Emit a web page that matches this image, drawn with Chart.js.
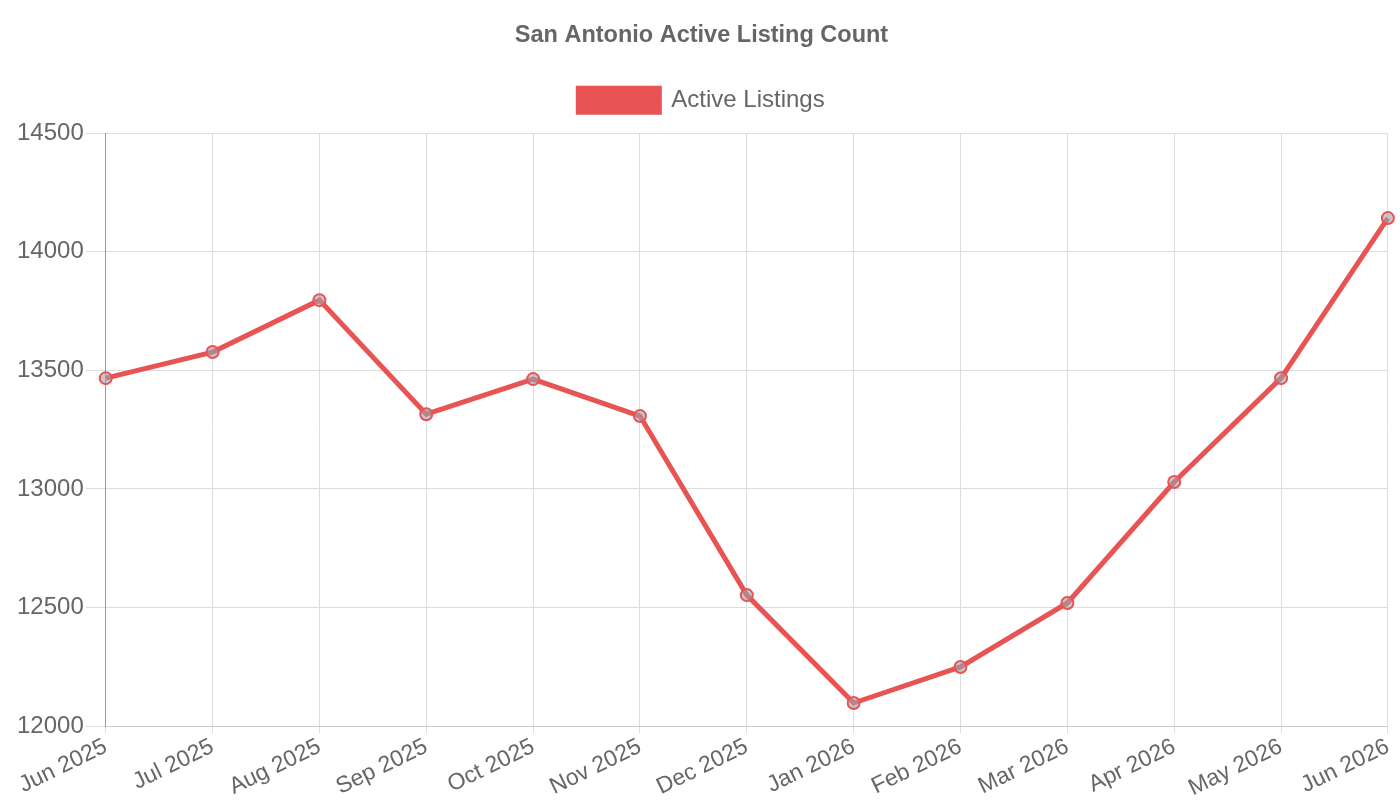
<!DOCTYPE html>
<html lang="en">
<head>
    <meta charset="utf-8">
    <title>San Antonio Active Listing Count</title>
    <style>
        html, body { margin: 0; padding: 0; background: #fff; }
        #wrap { width: 1400px; height: 800px; }
    </style>
</head>
<body>
    <div id="wrap"><canvas id="chart"></canvas></div>

    <script src="https://cdn.jsdelivr.net/npm/chart.js"></script>
    <script>
        const months = ['Jun 2025', 'Jul 2025', 'Aug 2025', 'Sep 2025', 'Oct 2025', 'Nov 2025', 'Dec 2025',
                        'Jan 2026', 'Feb 2026', 'Mar 2026', 'Apr 2026', 'May 2026', 'Jun 2026'];
        const activeListings = [13467, 13577, 13796, 13315, 13463, 13307, 12552, 12097, 12249, 12519, 13029, 13467, 14142];

        Chart.defaults.font.family = '"Liberation Sans", Arial, sans-serif';
        Chart.defaults.color = '#666';

        // a bit of extra room under the legend
        const legendGap = {
            id: 'legendGap',
            beforeInit(chart) {
                const fit = chart.legend.fit;
                chart.legend.fit = function () {
                    fit.call(this);
                    this.height += 11;
                };
            }
        };

        new Chart(document.getElementById('chart'), {
            type: 'line',
            data: {
                labels: months,
                datasets: [{
                    label: 'Active Listings',
                    data: activeListings,
                    borderColor: '#e85353',
                    backgroundColor: '#e85353',
                    borderWidth: 5,
                    pointRadius: 6,
                    pointBorderWidth: 2,
                    pointBackgroundColor: 'rgba(160, 160, 170, 0.6)',
                    pointBorderColor: '#e85353',
                    tension: 0,
                    fill: false
                }]
            },
            options: {
                responsive: true,
                maintainAspectRatio: false,
                animation: false,
                layout: { padding: { left: 15, right: 12, top: 11, bottom: 0 } },
                plugins: {
                    title: {
                        display: true,
                        text: 'San Antonio Active Listing Count',
                        font: { size: 23.5, weight: 'bold' },
                        padding: { top: 10, bottom: 21 }
                    },
                    legend: {
                        labels: {
                            font: { size: 24 },
                            boxWidth: 81,
                            boxHeight: 24,
                            padding: 18
                        }
                    },
                    tooltip: { enabled: false }
                },
                scales: {
                    x: {
                        grid: { color: '#ddd', tickLength: 7 },
                        border: { color: '#ccc' },
                        ticks: { font: { size: 23 }, maxRotation: 26, minRotation: 26, padding: 0 },
                        afterFit: scale => { scale.height = 74; }
                    },
                    y: {
                        min: 12000,
                        max: 14500,
                        grid: { color: '#ddd', tickLength: 20 },
                        border: { color: '#999' },
                        ticks: {
                            font: { size: 24 },
                            stepSize: 500,
                            padding: 2,
                            callback: v => String(v)
                        }
                    }
                }
            },
            plugins: [legendGap]
        });
    </script>
</body>
</html>
